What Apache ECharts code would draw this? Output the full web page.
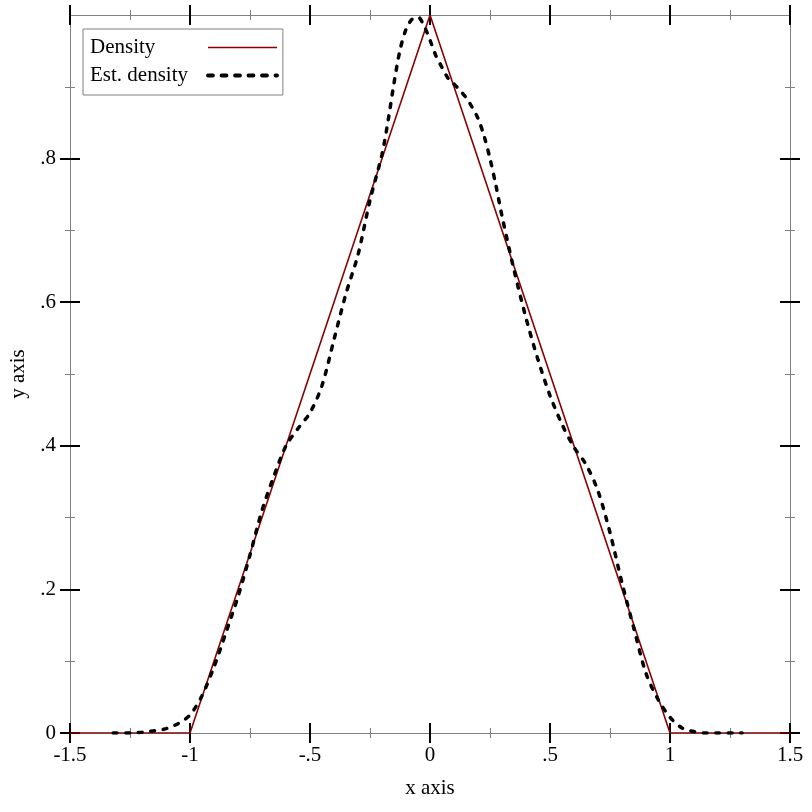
<!DOCTYPE html>
<html>
<head>
<meta charset="utf-8">
<script src="https://cdn.jsdelivr.net/npm/echarts@6/dist/echarts.min.js"></script>
<style>
html,body{margin:0;padding:0;background:#fff;}
#chart{width:812px;height:812px;}
</style>
</head>
<body>
<div id="chart"></div>
<script>
// ---- data ----
const densityX = [-1.5, -1, 0, 1, 1.5];
const densityY = [0, 0, 1, 0, 0];

const estX = [-1.32, -1.25, -1.2, -1.15, -1.1, -1.05, -1.0, -0.95, -0.9, -0.85, -0.8, -0.75, -0.7, -0.65, -0.6, -0.55, -0.5, -0.45, -0.4, -0.35, -0.3, -0.25, -0.2, -0.175, -0.15, -0.125, -0.1, -0.075, -0.05, -0.025, 0.0, 0.025, 0.05, 0.075, 0.1, 0.125, 0.15, 0.175, 0.2, 0.225, 0.25, 0.275, 0.3, 0.35, 0.4, 0.45, 0.5, 0.55, 0.6, 0.65, 0.7, 0.75, 0.8, 0.85, 0.9, 0.95, 1.0, 1.05, 1.1, 1.15, 1.2, 1.3];
const estY = [0.0, 0.0, 0.001, 0.003, 0.006, 0.013, 0.025, 0.052, 0.092, 0.14, 0.19, 0.248, 0.31, 0.358, 0.4, 0.424, 0.446, 0.484, 0.548, 0.612, 0.666, 0.742, 0.806, 0.852, 0.905, 0.951, 0.98, 0.994, 0.997, 0.985, 0.965, 0.943, 0.927, 0.912, 0.904, 0.895, 0.885, 0.872, 0.856, 0.832, 0.8, 0.762, 0.72, 0.645, 0.578, 0.52, 0.47, 0.43, 0.398, 0.374, 0.337, 0.279, 0.209, 0.145, 0.083, 0.047, 0.022, 0.007, 0.002, 0.0, 0.0, 0.0];

const xTicks = [-1.5, -1, -0.5, 0, 0.5, 1, 1.5];
const xTickLabels = ['-1.5', '-1', '-.5', '0', '.5', '1', '1.5'];
const yTicks = [0, 0.2, 0.4, 0.6, 0.8];
const yTickLabels = ['0', '.2', '.4', '.6', '.8'];

const seriesNames = ['Density', 'Est. density'];
const xName = 'x axis';
const yName = 'y axis';

// ---- styling ----
const FONT = '"Liberation Serif", "DejaVu Serif", serif';
const AXIS_GRAY = '#808080';
const RED = '#8b0000';

function labelFor(ticks, labels) {
  return function (v) {
    for (let i = 0; i < ticks.length; i++) {
      if (Math.abs(ticks[i] - v) < 1e-9) return labels[i];
    }
    return '';
  };
}

function makeAxis(kind, position, inside, main) {
  const isX = kind === 'x';
  const ticks = isX ? xTicks : yTicks;
  const a = {
    type: 'value',
    gridIndex: 0,
    position: position,
    min: isX ? -1.5 : 0,
    max: isX ? 1.5 : 1,
    interval: isX ? 0.5 : 0.2,
    axisLine: { show: !inside, onZero: false, lineStyle: { color: AXIS_GRAY, width: 1 } },
    axisTick: { show: true, inside: inside, length: 10, customValues: ticks, lineStyle: { color: '#000', width: 2 } },
    minorTick: { show: true, splitNumber: 2, length: 5, lineStyle: { color: AXIS_GRAY, width: 1 } },
    splitLine: { show: false },
    minorSplitLine: { show: false },
    axisLabel: { show: false }
  };
  if (main) {
    a.axisLabel = {
      show: true,
      customValues: ticks,
      formatter: labelFor(ticks, isX ? xTickLabels : yTickLabels),
      fontFamily: FONT,
      fontSize: 21,
      color: '#000',
      margin: isX ? 12 : 14
    };
    a.name = isX ? xName : yName;
    a.nameLocation = 'middle';
    a.nameGap = isX ? 45 : 41;
    a.nameTextStyle = { fontFamily: FONT, fontSize: 21, color: '#000' };
  }
  return a;
}

const chart = echarts.init(document.getElementById('chart'), null, { renderer: 'canvas' });

const option = {
  animation: false,
  backgroundColor: '#fff',
  grid: { left: 70, right: 22, top: 15, bottom: 79, containLabel: false, outerBoundsMode: 'none' },
  xAxis: [
    makeAxis('x', 'bottom', false, true),
    makeAxis('x', 'bottom', true, false),
    makeAxis('x', 'top', false, false),
    makeAxis('x', 'top', true, false)
  ],
  yAxis: [
    makeAxis('y', 'left', false, true),
    makeAxis('y', 'left', true, false),
    makeAxis('y', 'right', false, false),
    makeAxis('y', 'right', true, false)
  ],
  legend: {
    left: 83,
    top: 29,
    orient: 'vertical',
    align: 'right',
    itemWidth: 69,
    itemHeight: 20,
    itemGap: 7,
    padding: [8, 4, 9, 7],
    borderColor: AXIS_GRAY,
    borderWidth: 1,
    backgroundColor: '#fff',
    data: [
      { name: seriesNames[0], lineStyle: { width: 1.6, color: RED } },
      { name: seriesNames[1], lineStyle: { width: 3.8, color: '#000', type: [5, 8.5], cap: 'round' } }
    ],
    itemStyle: { opacity: 0 },
    formatter: function (name) { return '{n|' + name + '}'; },
    textStyle: {
      fontFamily: FONT,
      fontSize: 21,
      color: '#000',
      rich: { n: { width: 113, align: 'left', fontFamily: FONT, fontSize: 21, color: '#000' } }
    }
  },
  series: [
    {
      name: seriesNames[0],
      type: 'line',
      xAxisIndex: 0,
      yAxisIndex: 0,
      symbol: 'none',
      showSymbol: false,
      data: densityX.map((x, i) => [x, densityY[i]]),
      lineStyle: { color: RED, width: 1.6 },
      itemStyle: { color: RED },
      z: 3
    },
    {
      name: seriesNames[1],
      type: 'line',
      xAxisIndex: 0,
      yAxisIndex: 0,
      symbol: 'none',
      showSymbol: false,
      smooth: 0.3,
      data: estX.map((x, i) => [x, estY[i]]),
      lineStyle: { color: '#000', width: 3.5, type: [4, 8.5], cap: 'round' },
      itemStyle: { color: '#000' },
      z: 4
    }
  ]
};

chart.setOption(option);
</script>
</body>
</html>
